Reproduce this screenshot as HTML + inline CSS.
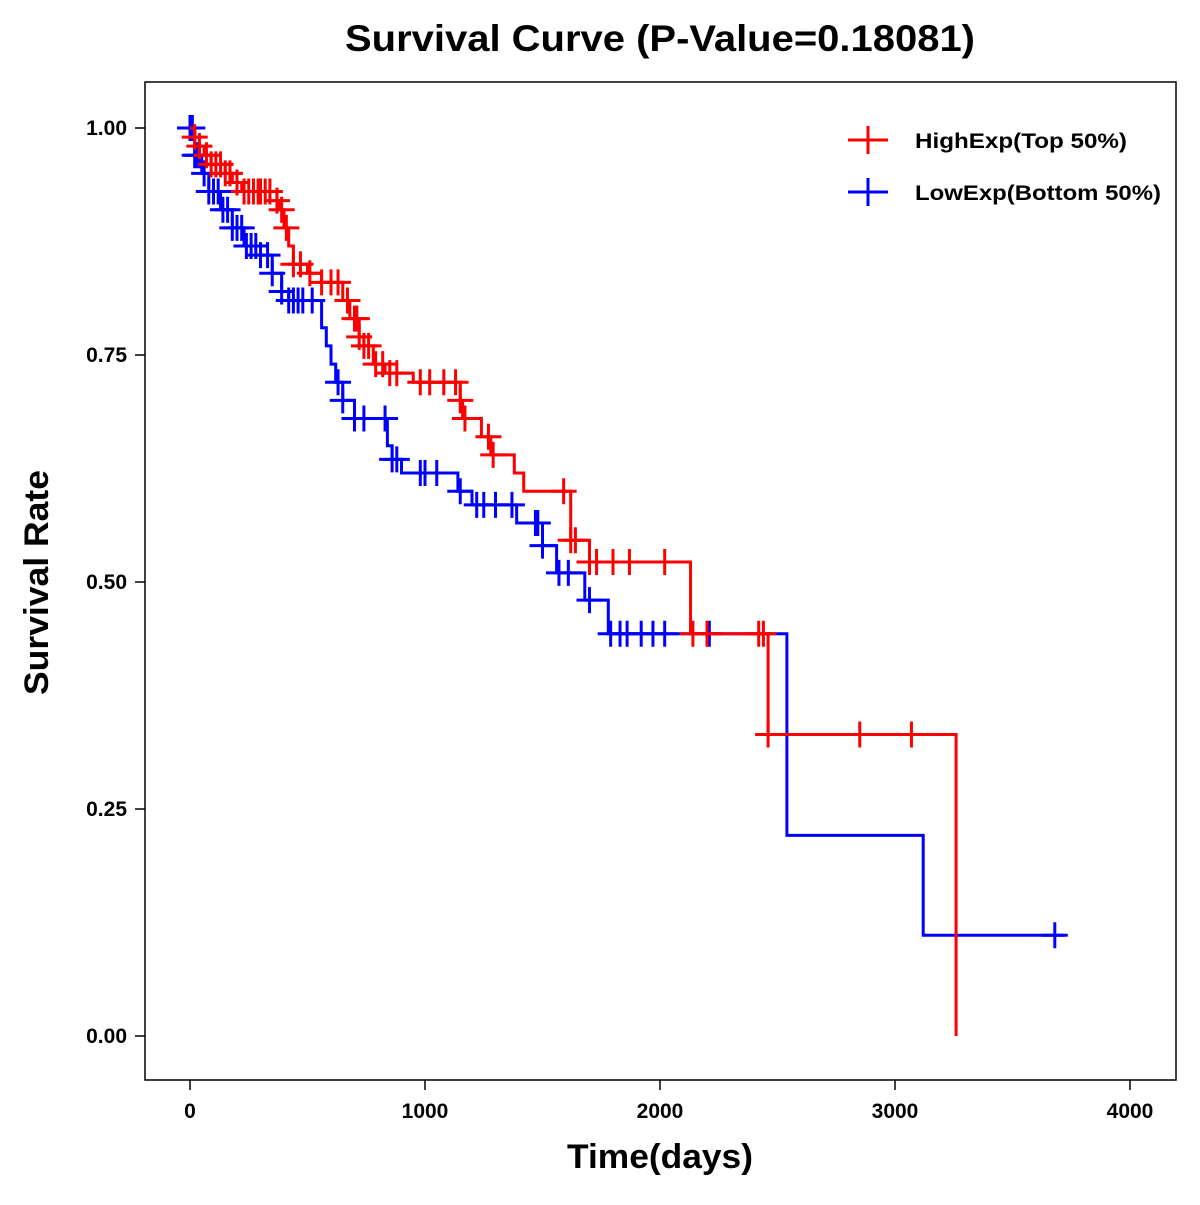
<!DOCTYPE html>
<html><head><meta charset="utf-8"><style>
body{margin:0;background:#fff;}
svg text{font-family:"Liberation Sans",Arial,sans-serif;font-weight:bold;}
</style></head><body>
<svg id="chart" width="1200" height="1200">
<rect x="0" y="0" width="1200" height="1200" fill="#fff"/>
<text x="345" y="51" font-size="37" textLength="630" lengthAdjust="spacingAndGlyphs">Survival Curve (P-Value=0.18081)</text>
<rect x="145" y="82" width="1031" height="998" fill="none" stroke="#000" stroke-width="1.5"/>
<g id="axes"></g>
<g id="series"></g>
<text x="567" y="1168" font-size="34" textLength="186" lengthAdjust="spacingAndGlyphs">Time(days)</text>
<text x="0" y="0" font-size="34" textLength="225" lengthAdjust="spacingAndGlyphs" transform="translate(48 695) rotate(-90)">Survival Rate</text>
<g>
<g>
<line x1="848" y1="140" x2="888" y2="140" stroke="#f00" stroke-width="3"/><line x1="868" y1="126" x2="868" y2="154" stroke="#f00" stroke-width="3"/>
<text x="915" y="148" font-size="21" textLength="212" lengthAdjust="spacingAndGlyphs">HighExp(Top 50%)</text></g>
<g>
<line x1="848" y1="192" x2="888" y2="192" stroke="#00f" stroke-width="3"/><line x1="868" y1="178" x2="868" y2="206" stroke="#00f" stroke-width="3"/>
<text x="915" y="200" font-size="21" textLength="246" lengthAdjust="spacingAndGlyphs">LowExp(Bottom 50%)</text></g>
</g>
</svg>
<script>
const xTicks=[0,1000,2000,3000,4000];
const yTicks=[0,0.25,0.5,0.75,1.0];
const yTickLabels=["0.00","0.25","0.50","0.75","1.00"];
const highTimes=[0,20,40,60,90,150,180,220,370,380,400,420,440,500,560,650,680,720,740,780,830,950,1150,1160,1240,1280,1380,1420,1620,1700,2130,2460,3260];
const highSurv=[1.0,0.99,0.98,0.97,0.96,0.95,0.94,0.93,0.92,0.91,0.89,0.87,0.85,0.84,0.83,0.81,0.79,0.77,0.76,0.74,0.73,0.72,0.70,0.68,0.66,0.64,0.62,0.60,0.546,0.522,0.443,0.332,0.0];
const highEnd=3260;
const highCensor=[20,40,70,90,110,130,150,170,200,230,250,270,290,300,320,340,370,390,410,440,470,510,560,600,630,670,700,710,720,740,760,790,820,850,880,980,1020,1080,1130,1150,1170,1270,1290,1590,1620,1640,1700,1730,1800,1870,2020,2140,2200,2420,2440,2460,2850,3070];
const lowTimes=[0,20,50,80,130,180,230,300,350,390,420,560,580,600,620,650,700,840,860,900,1140,1200,1390,1500,1560,1680,1780,2540,3120];
const lowSurv=[1.0,0.97,0.95,0.93,0.91,0.89,0.87,0.86,0.84,0.82,0.81,0.78,0.76,0.74,0.72,0.70,0.68,0.65,0.635,0.62,0.60,0.585,0.565,0.54,0.51,0.48,0.443,0.221,0.111];
const lowEnd=3720;
const lowCensor=[0,10,20,30,40,60,80,100,120,140,160,180,200,220,240,260,280,300,330,350,390,420,440,460,480,520,630,650,700,740,830,860,880,980,1000,1050,1150,1220,1250,1300,1370,1470,1480,1500,1570,1610,1700,1790,1830,1860,1920,1970,2020,2210,3680];

const X=t=>190+t*0.235;
const Y=s=>1036-s*908;
const NS="http://www.w3.org/2000/svg";
function mk(tag,attrs,parent){const e=document.createElementNS(NS,tag);for(const k in attrs)e.setAttribute(k,attrs[k]);parent.appendChild(e);return e;}
const axes=document.getElementById('axes');
xTicks.forEach(t=>{
  const l=mk('line',{x1:X(t),x2:X(t),y1:1080,y2:1090,stroke:'#000','stroke-width':1.5},axes);
  
  
  const tx=mk('text',{x:X(t),y:1118,'font-size':21,'text-anchor':'middle'},axes);
  tx.textContent=t;
  
  
});
yTicks.forEach((v,i)=>{
  const l=mk('line',{x1:135,x2:145,y1:Y(v),y2:Y(v),stroke:'#000','stroke-width':1.5},axes);
  
  
  const tx=mk('text',{x:127,y:Y(v)+7,'font-size':21,'text-anchor':'end'},axes);
  tx.textContent=yTickLabels[i];
  
  
});
function survAt(times,surv,t){let s=surv[0];for(let i=0;i<times.length;i++){if(times[i]<=t)s=surv[i];}return s;}
const series=document.getElementById('series');
function draw(times,surv,end,cens,color,name){
  const g=mk('g',{},series);
  
  
  let d='M'+X(times[0])+','+Y(surv[0]);
  for(let i=1;i<times.length;i++){d+=' H'+X(times[i])+' V'+Y(surv[i]);}
  d+=' H'+X(end);
  const p=mk('path',{d:d,fill:'none',stroke:color,'stroke-width':3},g);
  
  
  cens.forEach(t=>{
    const s=survAt(times,surv,t);
    const m=mk('path',{d:`M${X(t)-13},${Y(s)} h26 M${X(t)},${Y(s)-13} v26`,stroke:color,'stroke-width':3,fill:'none'},g);
    
    
  });
}
draw(lowTimes,lowSurv,lowEnd,lowCensor,'#00f','low-exp');
draw(highTimes,highSurv,highEnd,highCensor,'#f00','high-exp');
</script>
</body></html>
